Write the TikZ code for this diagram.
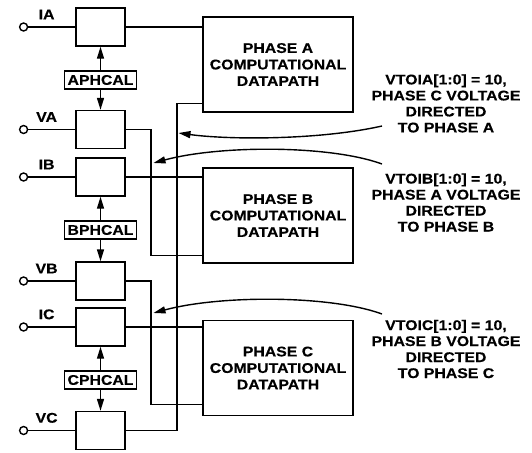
\documentclass[tikz,border=0pt]{standalone}
\usepackage{fontspec}
\newfontfamily\diagfont[FakeStretch=1.13,FakeBold=0.4]{Liberation Sans Bold}
\usetikzlibrary{positioning,arrows.meta}

\begin{document}
\begin{tikzpicture}[x=1pt,y=-1pt,line width=1.4pt,
  every node/.style={font=\diagfont\fontsize{14}{16}\selectfont},
  smallbox/.style={draw,minimum width=49pt,minimum height=38pt},
  calbox/.style={draw,inner xsep=3pt,inner ysep=0pt,minimum height=18pt},
  phasebox/.style={draw,align=center,minimum width=150pt,minimum height=95pt,
    font=\diagfont\fontsize{14}{16.5}\selectfont},
  term/.style={draw,circle,fill=white,minimum size=8pt,inner sep=0pt},
  lbl/.style={inner sep=0pt,anchor=south},
  note/.style={align=center,inner sep=0pt},
  arrowto/.style={-{Triangle[length=12pt,width=7pt]}}]
\useasboundingbox (0,0) rectangle (532,452);

\node[smallbox] (ia) at (100.5,27) {};
\node[smallbox] (va) at (100.5,129.5) {};
\node[smallbox] (ib) at (100.5,177) {};
\node[smallbox] (vb) at (100.5,281) {};
\node[smallbox] (ic) at (100.5,327) {};
\node[smallbox] (vc) at (100.5,430.5) {};

\node[calbox] (acal) at (100.5,80) {APHCAL};
\node[calbox] (bcal) at (100.5,230) {BPHCAL};
\node[calbox] (ccal) at (100.5,380) {CPHCAL};

\node[phasebox] (pa) at (278,64.5) {PHASE A\\COMPUTATIONAL\\DATAPATH};
\node[phasebox] (pb) at (278,215.5) {PHASE B\\COMPUTATIONAL\\DATAPATH};
\node[phasebox] (pc) at (278,368) {PHASE C\\COMPUTATIONAL\\DATAPATH};

\node[term,left=47pt of ia] (tia) {};
\node[term,left=47pt of va] (tva) {};
\node[term,left=47pt of ib] (tib) {};
\node[term,left=47pt of vb] (tvb) {};
\node[term,left=47pt of ic] (tic) {};
\node[term,left=47pt of vc] (tvc) {};

\node[lbl] (lia) at ([shift={(23pt,7pt)}]tia.center) {IA};
\node[lbl] (lva) at ([shift={(23pt,7pt)}]tva.center) {VA};
\node[lbl] (lib) at ([shift={(23pt,7pt)}]tib.center) {IB};
\node[lbl] (lvb) at ([shift={(23pt,7pt)}]tvb.center) {VB};
\node[lbl] (lic) at ([shift={(23pt,7pt)}]tic.center) {IC};
\node[lbl] (lvc) at ([shift={(23pt,7pt)}]tvc.center) {VC};

\node[note] (vtoia) at (446,103.4) {VTOIA[1:0] = 10,\\PHASE C VOLTAGE\\DIRECTED\\TO PHASE A};
\node[note] (vtoib) at (446,202.5) {VTOIB[1:0] = 10,\\PHASE A VOLTAGE\\DIRECTED\\TO PHASE B};
\node[note] (vtoic) at (446,349) {VTOIC[1:0] = 10,\\PHASE B VOLTAGE\\DIRECTED\\TO PHASE C};

\draw (tia) -- (ia);
\draw (tva) -- (va);
\draw (tib) -- (ib);
\draw (tvb) -- (vb);
\draw (tic) -- (ic);
\draw (tvc) -- (vc);

\draw[arrowto] (acal) -- (ia);
\draw[arrowto] (acal) -- (va);
\draw[arrowto] (bcal) -- (ib);
\draw[arrowto] (bcal) -- (vb);
\draw[arrowto] (ccal) -- (ic);
\draw[arrowto] (ccal) -- (vc);

\coordinate (busv) at (151,0);
\coordinate (busc) at (177,0);
\coordinate (pav) at ([yshift=9pt]pa.south west);
\coordinate (pbv) at ([yshift=8pt]pb.south west);
\coordinate (pcv) at ([yshift=12pt]pc.south west);

\draw (ia) -- (ia -| pa.west);
\draw (ib) -- (ib -| pb.west);
\draw (ic) -- (ic -| pc.west);
\draw (va.east) -| (busv |- pbv) -- (pbv);
\draw (vb.east) -| (busv |- pcv) -- (pcv);
\draw (vc.east) -| (busc |- pav) -- (pav);

\coordinate (sa) at (382,126);
\coordinate (ea) at (178.5,133);
\coordinate (sb) at (382,164);
\coordinate (eb) at (153.5,163);
\coordinate (sc) at (382,314);
\coordinate (ec) at (153.5,313);
\draw[arrowto] (sa) .. controls (320,140) and (230,140) .. (ea);
\draw[arrowto] (sb) .. controls (330,145) and (220,145) .. (eb);
\draw[arrowto] (sc) .. controls (330,295) and (220,295) .. (ec);
\end{tikzpicture}
\end{document}
